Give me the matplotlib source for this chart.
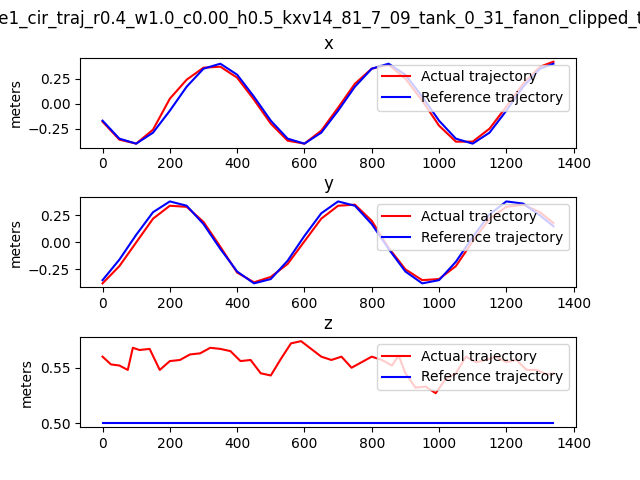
import numpy as np
import matplotlib
matplotlib.use("Agg")
import matplotlib.pyplot as plt

title = "bike1_cir_traj_r0.4_w1.0_c0.00_h0.5_kxv14_81_7_09_tank_0_31_fanon_clipped_traj"

# sample index positions for x/y traces
t_xy = [0, 50, 100, 150, 200, 250, 300, 350, 400, 450, 500, 550, 600, 650, 700,
        750, 800, 850, 900, 950, 1000, 1050, 1100, 1150, 1200, 1250, 1300, 1340]

x_ref = [-0.17, -0.35, -0.40, -0.29, -0.07, 0.17, 0.35, 0.40, 0.29, 0.07, -0.17, -0.35, -0.40, -0.29,
         -0.07, 0.17, 0.35, 0.40, 0.29, 0.07, -0.17, -0.35, -0.40, -0.29, -0.07, 0.17, 0.35, 0.40]
x_act = [-0.18, -0.36, -0.40, -0.26, 0.05, 0.24, 0.36, 0.37, 0.26, 0.04, -0.20, -0.37, -0.40, -0.27,
         -0.04, 0.20, 0.35, 0.39, 0.25, 0.03, -0.22, -0.38, -0.38, -0.25, -0.03, 0.20, 0.37, 0.42]

y_ref = [-0.35, -0.16, 0.07, 0.28, 0.38, 0.34, 0.17, -0.06, -0.27, -0.38, -0.34, -0.17, 0.06, 0.27,
         0.38, 0.34, 0.17, -0.06, -0.27, -0.38, -0.35, -0.18, 0.05, 0.26, 0.38, 0.36, 0.25, 0.15]
y_act = [-0.38, -0.22, 0.00, 0.22, 0.34, 0.33, 0.19, -0.04, -0.28, -0.37, -0.32, -0.20, 0.01, 0.22,
         0.34, 0.35, 0.20, -0.05, -0.25, -0.35, -0.34, -0.22, 0.01, 0.22, 0.33, 0.35, 0.28, 0.18]

t_z = [0, 25, 50, 75, 90, 110, 140, 170, 200, 230, 260, 290, 320, 350, 380, 410, 440, 470, 500, 530,
       560, 590, 620, 650, 680, 710, 740, 770, 800, 830, 860, 880, 900, 930, 960, 990, 1020, 1050,
       1080, 1110, 1140, 1170, 1200, 1230, 1260, 1290, 1320, 1340]
z_act = [0.560, 0.553, 0.552, 0.548, 0.568, 0.566, 0.567, 0.548, 0.556, 0.557, 0.562, 0.563, 0.568,
         0.567, 0.565, 0.556, 0.557, 0.545, 0.543, 0.558, 0.572, 0.574, 0.567, 0.560, 0.557, 0.560,
         0.550, 0.555, 0.560, 0.557, 0.552, 0.561, 0.545, 0.532, 0.533, 0.527, 0.540, 0.545, 0.560,
         0.555, 0.557, 0.560, 0.555, 0.557, 0.548, 0.548, 0.544, 0.545]
z_ref_t = [0, 1340]
z_ref = [0.50, 0.50]

fig, axes = plt.subplots(3, 1, figsize=(6.4, 4.8))
# title is wider than the figure, as in the original output
fig.suptitle(title)

series = [
    ("x", t_xy, x_act, t_xy, x_ref),
    ("y", t_xy, y_act, t_xy, y_ref),
    ("z", t_z, z_act, z_ref_t, z_ref),
]
for ax, (name, ta, act, tr, ref) in zip(axes, series):
    ax.plot(ta, act, color="red", label="Actual trajectory")
    ax.plot(tr, ref, color="blue", label="Reference trajectory")
    ax.set_title(name)
    ax.set_ylabel("meters")
    ax.legend(loc="upper right")

axes[2].set_yticks([0.50, 0.55])

fig.subplots_adjust(hspace=0.55)
plt.savefig("out.png")
